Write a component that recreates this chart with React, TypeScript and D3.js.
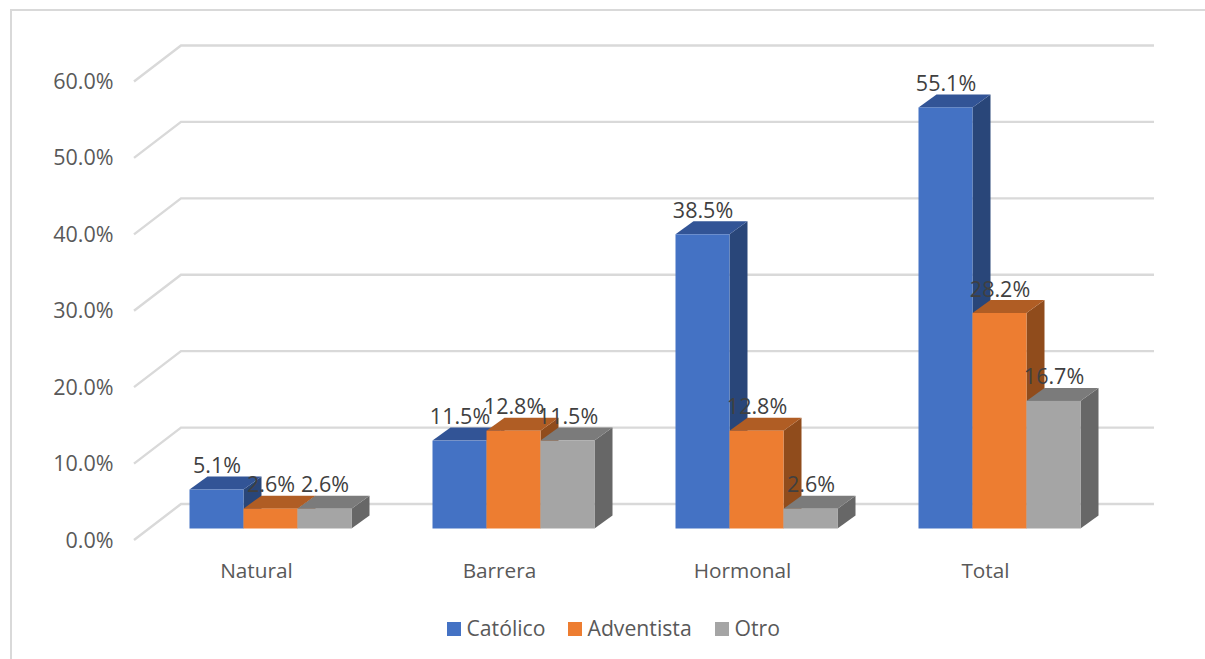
import React from "react";
import * as d3 from "d3";

const categories = ["Natural", "Barrera", "Hormonal", "Total"];
const seriesNames = ["Católico", "Adventista", "Otro"];
const catolico = [5.1, 11.5, 38.5, 55.1];
const adventista = [2.6, 12.8, 12.8, 28.2];
const otro = [2.6, 11.5, 2.6, 16.7];
const seriesValues = [catolico, adventista, otro];
const yTicks = [0, 10, 20, 30, 40, 50, 60];
const front = ["#4472c4", "#ed7d31", "#a5a5a5"];
const topFace = ["#325496", "#b05d24", "#7b7b7b"];
const sideFace = ["#294679", "#904c1c", "#676767"];
const FONT = "'Open Sans', sans-serif";

const W = 1205, H = 659;
const depthX = 18, depthY = 13;
const gridDX = 47, gridDY = 36;
const y = d3.scaleLinear().domain([0, 60]).range([528.5, 70]);
const xCat = d3.scaleBand().domain(categories).range([134, 1106]).paddingInner(0).paddingOuter(0);
const inner = d3.scaleBand().domain(seriesNames).range([55.5, 217.5]);

const poly = (pts: [number, number][]) => pts.map((p) => p.join(",")).join(" ");

export default function App() {
  return (
    <svg width={W} height={H} style={{ position: "fixed", left: 0, top: 0, background: "#fff" }} fontFamily={FONT}>
      <path d="M1205,10H11V659" fill="none" stroke="#d9d9d9" strokeWidth={2} />
      {yTicks.map((t) => {
        const yy = y(t) + 11.5;
        return (
          <g key={t}>
            <polyline
              points={poly([[134, yy], [134 + gridDX, yy - gridDY], [1154, yy - gridDY]])}
              fill="none" stroke="#d9d9d9" strokeWidth={2.4}
            />
            <text x={113.5} y={yy} dy="0.35em" textAnchor="end" fontSize={21.5} fill="#595959">{t.toFixed(1)}%</text>
          </g>
        );
      })}
      {categories.map((c, ci) => {
        const x0 = xCat(c)!;
        return (
          <g key={c}>
            {seriesNames.map((s, si) => {
              const v = seriesValues[si][ci];
              const xl = x0 + inner(s)!;
              const xr = xl + inner.bandwidth();
              const top = y(v), base = y(0);
              return (
                <g key={s}>
                  <polygon points={poly([[xr, top], [xr + depthX, top - depthY], [xr + depthX, base - depthY], [xr, base]])} fill={sideFace[si]} />
                  <polygon points={poly([[xl, top], [xl + depthX, top - depthY], [xr + depthX, top - depthY], [xr, top]])} fill={topFace[si]} />
                  <rect x={xl} y={top} width={xr - xl} height={base - top} fill={front[si]} />
                </g>
              );
            })}
            <text x={x0 + xCat.bandwidth() / 2 + 1} y={571} dy="0.35em" textAnchor="middle" fontSize={20.8} fill="#595959">{c}</text>
          </g>
        );
      })}
      {categories.map((c, ci) =>
        seriesNames.map((s, si) => {
          const v = seriesValues[si][ci];
          const cx = xCat(c)! + inner(s)! + inner.bandwidth() / 2 + 0.5;
          return (
            <text key={c + s} x={cx} y={y(v) - 24} dy="0.35em" textAnchor="middle" fontSize={21.5} fill="#404040">{v.toFixed(1)}%</text>
          );
        })
      )}
      {seriesNames.map((s, si) => {
        const lx = [447, 568, 715][si];
        return (
          <g key={s}>
            <rect x={lx} y={622} width={14} height={14} fill={front[si]} />
            <text x={lx + 19.5} y={629} dy="0.35em" fontSize={21.2} fill="#595959">{s}</text>
          </g>
        );
      })}
    </svg>
  );
}
